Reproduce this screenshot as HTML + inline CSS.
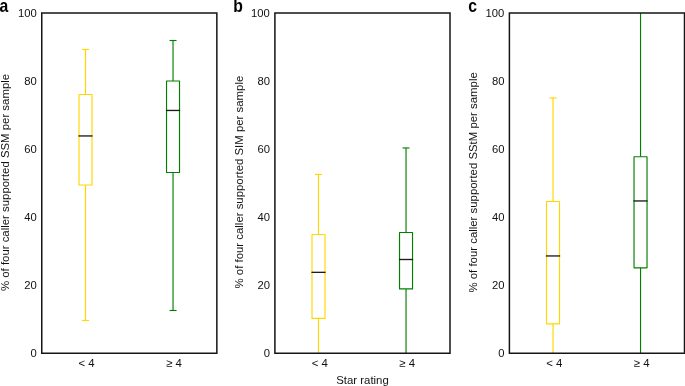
<!DOCTYPE html>
<html><head><meta charset="utf-8"><title>Star rating box plots</title>
<style>
html,body{margin:0;padding:0;background:#fff;}
svg{display:block;will-change:transform;}
text{font-family:"Liberation Sans",sans-serif;fill:#111;}
.t{font-size:11.4px;}
.k{font-size:11.25px;}
.l{font-size:17.5px;font-weight:bold;fill:#000;}
</style></head><body>
<svg width="685" height="386" viewBox="0 0 685 386">
<rect width="685" height="386" fill="#fff"/>
<g>
<g stroke="#ffd700" stroke-width="1.15" fill="none" stroke-linejoin="round">
<line x1="85.50" y1="320.45" x2="85.50" y2="184.95"/>
<line x1="85.50" y1="94.45" x2="85.50" y2="49.45"/>
<line x1="82.00" y1="320.45" x2="89.00" y2="320.45"/>
<line x1="82.00" y1="49.45" x2="89.00" y2="49.45"/>
<rect x="79.00" y="94.45" width="13.00" height="90.50"/>
<line x1="78.40" y1="135.95" x2="92.60" y2="135.95" stroke="#1c1c1c" stroke-width="1.35"/>
</g>
<g stroke="#008000" stroke-width="1.15" fill="none" stroke-linejoin="round">
<line x1="173.03" y1="310.50" x2="173.03" y2="172.50"/>
<line x1="173.03" y1="80.97" x2="173.03" y2="40.50"/>
<line x1="169.53" y1="310.50" x2="176.53" y2="310.50"/>
<line x1="169.53" y1="40.50" x2="176.53" y2="40.50"/>
<rect x="166.53" y="80.97" width="13.00" height="91.53"/>
<line x1="165.93" y1="110.45" x2="180.13" y2="110.45" stroke="#1c1c1c" stroke-width="1.35"/>
</g>
<rect x="41.75" y="13.0" width="175.1" height="340.25" fill="none" stroke="#151515" stroke-width="1.5"/>
<text class="t k" x="36.75" y="357.40" text-anchor="end">0</text>
<text class="t k" x="36.75" y="289.34" text-anchor="end">20</text>
<text class="t k" x="36.75" y="221.28" text-anchor="end">40</text>
<text class="t k" x="36.75" y="153.22" text-anchor="end">60</text>
<text class="t k" x="36.75" y="85.16" text-anchor="end">80</text>
<text class="t k" x="36.75" y="17.10" text-anchor="end">100</text>
<text class="t" x="86.58" y="366.7" text-anchor="middle">&lt; 4</text>
<text class="t" x="174.07" y="366.7" text-anchor="middle">≥ 4</text>
<text class="t" transform="translate(9.00,182.5) rotate(-90)" text-anchor="middle">% of four caller supported SSM per sample</text>
<text class="l" transform="translate(-0.40,12.4) scale(0.9,1)">a</text>
</g>
<g>
<g stroke="#ffd700" stroke-width="1.15" fill="none" stroke-linejoin="round">
<line x1="318.50" y1="353.25" x2="318.50" y2="318.40"/>
<line x1="318.50" y1="234.45" x2="318.50" y2="174.45"/>
<line x1="315.00" y1="174.45" x2="322.00" y2="174.45"/>
<rect x="312.00" y="234.45" width="13.00" height="83.95"/>
<line x1="311.40" y1="272.35" x2="325.60" y2="272.35" stroke="#1c1c1c" stroke-width="1.35"/>
</g>
<g stroke="#008000" stroke-width="1.15" fill="none" stroke-linejoin="round">
<line x1="406.03" y1="353.25" x2="406.03" y2="288.90"/>
<line x1="406.03" y1="232.50" x2="406.03" y2="147.95"/>
<line x1="402.53" y1="147.95" x2="409.53" y2="147.95"/>
<rect x="399.53" y="232.50" width="13.00" height="56.40"/>
<line x1="398.93" y1="259.50" x2="413.13" y2="259.50" stroke="#1c1c1c" stroke-width="1.35"/>
</g>
<rect x="274.90" y="13.0" width="175.1" height="340.25" fill="none" stroke="#151515" stroke-width="1.5"/>
<text class="t k" x="269.90" y="357.40" text-anchor="end">0</text>
<text class="t k" x="269.90" y="289.34" text-anchor="end">20</text>
<text class="t k" x="269.90" y="221.28" text-anchor="end">40</text>
<text class="t k" x="269.90" y="153.22" text-anchor="end">60</text>
<text class="t k" x="269.90" y="85.16" text-anchor="end">80</text>
<text class="t k" x="269.90" y="17.10" text-anchor="end">100</text>
<text class="t" x="319.72" y="366.7" text-anchor="middle">&lt; 4</text>
<text class="t" x="407.22" y="366.7" text-anchor="middle">≥ 4</text>
<text class="t" transform="translate(243.00,182.1) rotate(-90)" text-anchor="middle">% of four caller supported SIM per sample</text>
<text class="l" transform="translate(233.20,11.9) scale(0.9,1)">b</text>
</g>
<g>
<g stroke="#ffd700" stroke-width="1.15" fill="none" stroke-linejoin="round">
<line x1="553.03" y1="353.25" x2="553.03" y2="323.85"/>
<line x1="553.03" y1="201.50" x2="553.03" y2="97.95"/>
<line x1="549.53" y1="97.95" x2="556.53" y2="97.95"/>
<rect x="546.53" y="201.50" width="13.00" height="122.35"/>
<line x1="545.93" y1="255.95" x2="560.13" y2="255.95" stroke="#1c1c1c" stroke-width="1.35"/>
</g>
<g stroke="#008000" stroke-width="1.15" fill="none" stroke-linejoin="round">
<line x1="640.53" y1="353.25" x2="640.53" y2="267.85"/>
<line x1="640.53" y1="156.70" x2="640.53" y2="13.00"/>
<rect x="634.03" y="156.70" width="13.00" height="111.15"/>
<line x1="633.43" y1="200.95" x2="647.63" y2="200.95" stroke="#1c1c1c" stroke-width="1.35"/>
</g>
<rect x="509.40" y="13.0" width="175.1" height="340.25" fill="none" stroke="#151515" stroke-width="1.5"/>
<text class="t k" x="504.40" y="357.40" text-anchor="end">0</text>
<text class="t k" x="504.40" y="289.34" text-anchor="end">20</text>
<text class="t k" x="504.40" y="221.28" text-anchor="end">40</text>
<text class="t k" x="504.40" y="153.22" text-anchor="end">60</text>
<text class="t k" x="504.40" y="85.16" text-anchor="end">80</text>
<text class="t k" x="504.40" y="17.10" text-anchor="end">100</text>
<text class="t" x="554.22" y="366.7" text-anchor="middle">&lt; 4</text>
<text class="t" x="641.72" y="366.7" text-anchor="middle">≥ 4</text>
<text class="t" transform="translate(477.00,182.4) rotate(-90)" text-anchor="middle">% of four caller supported SStM per sample</text>
<text class="l" transform="translate(468.20,11.9) scale(0.9,1)">c</text>
</g>
<text class="t" x="362.5" y="383.5" text-anchor="middle">Star rating</text>
</svg></body></html>
